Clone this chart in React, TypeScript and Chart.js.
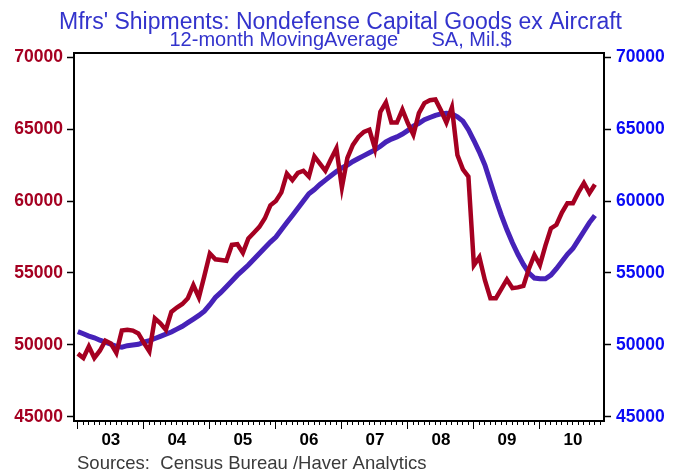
import { useEffect, useRef } from 'react';
import { Chart, registerables } from 'chart.js';

Chart.register(...registerables);

const FONT = '"Liberation Sans", Arial, Helvetica, sans-serif';

const TITLE = "Mfrs' Shipments: Nondefense Capital Goods ex Aircraft";
const SUBTITLE = '12-month MovingAverage      SA, Mil.$';
const SOURCE = 'Sources:  Census Bureau /Haver Analytics';

// Year labels shown mid-year on the x axis (monthly data from Jan 2003)
const yearLabels = ['03', '04', '05', '06', '07', '08', '09', '10'];

// Monthly shipments, Jan 2003 - Nov 2010 (Mil.$)
const shipments = [
  49400, 49100, 49900, 49100, 49600, 50300, 50100, 49450, 51000, 51050, 51000, 50800,
  50150, 49550, 51850, 51500, 51050, 52300, 52600, 52850, 53250, 54150, 53300, 54800,
  56350, 55950, 55900, 55850, 56950, 57000, 56400, 57400, 57800, 58200, 58800, 59700,
  60000, 60600, 61900, 61450, 61950, 62100, 61700, 63100, 62600, 62100, 62900, 63650,
  60950, 63000, 63900, 64450, 64800, 64950, 63650, 66200, 66850, 65450, 65450, 66350,
  65400, 64600, 66100, 66800, 67000, 67050, 66300, 65450, 66500, 63200, 62200, 61700,
  55550, 56100, 54500, 53250, 53250, 53900, 54550, 53950, 54000, 54100, 55300, 56250,
  55550, 56900, 58100, 58350, 59200, 59850, 59850, 60600, 61250, 60550, 61150,
];

// 12-month moving average
const movingAvg = [
  50930, 50780, 50620, 50500, 50330, 50200, 50050, 49900, 49850, 49950, 50000, 50050,
  50200, 50300, 50450, 50600, 50750, 50900, 51100, 51300, 51550, 51800, 52050, 52350,
  52800, 53300, 53650, 54050, 54450, 54850, 55200, 55550, 55950, 56350, 56750, 57150,
  57500, 58000, 58500, 59000, 59500, 60000, 60500, 60800, 61150, 61450, 61750, 62050,
  62300, 62500, 62750, 62950, 63150, 63350, 63550, 63800, 64100, 64300, 64450, 64650,
  64900, 65200, 65400, 65650, 65800, 65950, 66050, 66100, 66050, 65850, 65550, 64950,
  64200, 63400, 62500, 61300, 60100, 59000, 58000, 57100, 56300, 55600, 55000, 54650,
  54600, 54600, 54850, 55300, 55800, 56300, 56700, 57300, 57900, 58500, 59000,
];

const yTicks = [45000, 50000, 55000, 60000, 65000, 70000];
const Y_MIN = 44720;
const Y_MAX = 70280;
const X_MIN = -0.7;
const X_MAX = 95.65;
const monthTicks = Array.from({ length: 96 }, (_, i) => i);

const RED = '#A50021';
const PURPLE = '#4622B8';

const framePlugin = {
  id: 'frameAndSource',
  afterDraw(chart: any) {
    const { ctx, chartArea } = chart;
    ctx.save();
    ctx.strokeStyle = '#000';
    ctx.lineWidth = 2;
    ctx.beginPath();
    ctx.moveTo(chartArea.left - 1, chartArea.top);
    ctx.lineTo(chartArea.right + 1, chartArea.top);
    ctx.stroke();
    ctx.font = `18.5px ${FONT}`;
    ctx.fillStyle = '#3a3a3a';
    ctx.textAlign = 'left';
    ctx.textBaseline = 'alphabetic';
    ctx.fillText(SOURCE, chartArea.left + 3, chart.height - 1);
    ctx.restore();
  },
};

export default function App() {
  const canvasRef = useRef<HTMLCanvasElement | null>(null);

  useEffect(() => {
    const canvas = canvasRef.current;
    if (!canvas) return;
    const chart = new Chart(canvas, {
      type: 'line',
      data: {
        datasets: [
          {
            label: 'Shipments',
            data: shipments.map((v, i) => ({ x: i, y: v })),
            borderColor: RED,
            borderWidth: 4.5,
            pointRadius: 0,
            tension: 0,
            fill: false,
            yAxisID: 'y',
          },
          {
            label: '12-month Moving Average',
            data: movingAvg.map((v, i) => ({ x: i, y: v })),
            borderColor: PURPLE,
            borderWidth: 5,
            pointRadius: 0,
            tension: 0,
            fill: false,
            yAxisID: 'y',
          },
        ],
      },
      options: {
        responsive: false,
        animation: false,
        events: [],
        layout: { padding: 0 },
        plugins: {
          legend: { display: false },
          tooltip: { enabled: false },
          title: {
            display: true,
            text: TITLE,
            color: '#3333CC',
            font: { family: FONT, size: 23, weight: 'normal', lineHeight: 1 },
            padding: { top: 11, bottom: 0 },
          },
          subtitle: {
            display: true,
            text: SUBTITLE,
            color: '#3333CC',
            font: { family: FONT, size: 20, weight: 'normal', lineHeight: 0.6 },
            padding: { top: 0, bottom: 7 },
          },
        },
        scales: {
          x: {
            type: 'linear',
            position: 'bottom',
            min: X_MIN,
            max: X_MAX,
            afterBuildTicks: (s: any) => {
              s.ticks = monthTicks.map((v) => ({ value: v }));
            },
            afterFit: (s: any) => {
              s.height = 49;
            },
            ticks: {
              autoSkip: false,
              maxRotation: 0,
              color: '#000',
              padding: 1,
              font: { family: FONT, size: 17, weight: 'bold' },
              callback: (v: any) => {
                const n = Number(v);
                return n % 12 === 6 ? yearLabels[(n - 6) / 12] : '';
              },
            },
            grid: {
              drawOnChartArea: false,
              drawTicks: true,
              tickLength: 8,
              tickColor: '#000',
              tickWidth: 1,
              tickBorderDash: (ctx: any) => (ctx.tick && ctx.tick.value % 12 === 0 ? [] : [3, 30]),
            },
            border: { display: true, color: '#000', width: 2 },
          },
          y: {
            type: 'linear',
            position: 'left',
            min: Y_MIN,
            max: Y_MAX,
            afterBuildTicks: (s: any) => {
              s.ticks = yTicks.map((v) => ({ value: v }));
            },
            afterFit: (s: any) => {
              s.width = 74;
            },
            ticks: {
              color: RED,
              padding: 4,
              font: { family: FONT, size: 17.5, weight: 'bold' },
              callback: (v: any) => String(v),
            },
            grid: {
              drawOnChartArea: false,
              drawTicks: true,
              tickLength: 7,
              tickColor: '#000',
              tickWidth: 1.5,
            },
            border: { display: true, color: '#000', width: 2 },
          },
          y2: {
            type: 'linear',
            position: 'right',
            min: Y_MIN,
            max: Y_MAX,
            afterBuildTicks: (s: any) => {
              s.ticks = yTicks.map((v) => ({ value: v }));
            },
            afterFit: (s: any) => {
              s.width = 77;
            },
            ticks: {
              color: '#0A0AF5',
              padding: 5,
              font: { family: FONT, size: 17.5, weight: 'bold' },
              callback: (v: any) => String(v),
            },
            grid: {
              drawOnChartArea: false,
              drawTicks: true,
              tickLength: 7,
              tickColor: '#000',
              tickWidth: 1.5,
            },
            border: { display: true, color: '#000', width: 2 },
          },
        },
      } as any,
      plugins: [framePlugin],
    });
    return () => chart.destroy();
  }, []);

  return (
    <div style={{ position: 'absolute', left: 0, top: 0, width: 681, height: 470, background: '#fff' }}>
      <canvas ref={canvasRef} width={681} height={470} style={{ display: 'block' }} />
    </div>
  );
}
